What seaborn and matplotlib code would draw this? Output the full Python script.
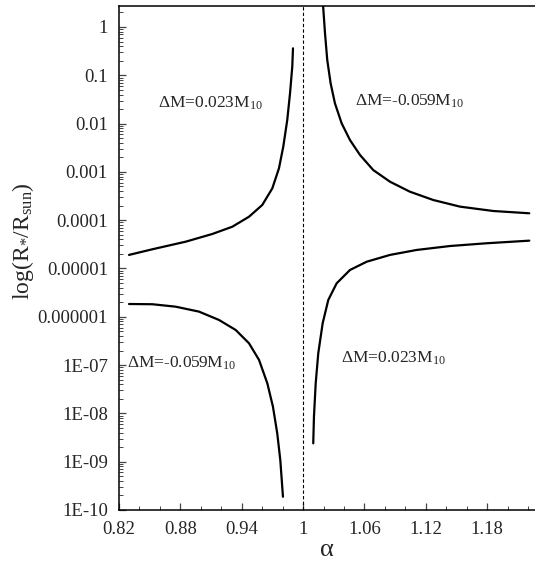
import numpy as np
import pandas as pd
import matplotlib
matplotlib.use("Agg")
import matplotlib.pyplot as plt
import matplotlib.ticker as mticker
import seaborn as sns

# Stellar radius versus alpha for two mass-loss cases, on either side of alpha = 1
alpha_ul = [0.8298, 0.8526, 0.8852, 0.9112, 0.9308, 0.9471, 0.9601, 0.9699,
            0.9764, 0.9806, 0.9845, 0.9872, 0.9894, 0.9901]
r_ul = [1.91e-5, 2.50e-5, 3.59e-5, 5.18e-5, 7.33e-5, 1.18e-4, 2.07e-4, 4.57e-4,
        1.19e-3, 3.33e-3, 1.19e-2, 4.24e-2, 0.151, 0.362]

alpha_ur = [1.0190, 1.0197, 1.0214, 1.0236, 1.0269, 1.0311, 1.0377, 1.0458, 1.0556,
            1.0686, 1.0849, 1.1044, 1.1272, 1.1533, 1.1859, 1.2211]
r_ur = [4.0, 2.44, 0.741, 0.207, 6.82e-2, 2.63e-2, 1.01e-2, 4.57e-3, 2.24e-3,
        1.09e-3, 6.27e-4, 3.89e-4, 2.62e-4, 1.91e-4, 1.55e-4, 1.39e-4]

alpha_ll = [0.8298, 0.8526, 0.8754, 0.8982, 0.9178, 0.9341, 0.9471, 0.9569,
            0.9650, 0.9705, 0.9747, 0.9777, 0.9803]
r_ll = [1.84e-6, 1.82e-6, 1.62e-6, 1.28e-6, 8.59e-7, 5.33e-7, 2.83e-7, 1.28e-7,
        4.2e-8, 1.38e-8, 3.87e-9, 1.08e-9, 1.88e-10]

alpha_lr = [1.0099, 1.0106, 1.0123, 1.0148, 1.0191, 1.0246, 1.0328, 1.0458,
            1.0621, 1.0849, 1.1110, 1.1436, 1.1794, 1.2211]
r_lr = [2.40e-9, 8.55e-9, 4.20e-8, 1.75e-7, 7.33e-7, 2.23e-6, 4.94e-6, 9.31e-6,
        1.38e-5, 1.91e-5, 2.42e-5, 2.92e-5, 3.33e-5, 3.77e-5]

curve_names = ["upper_left", "upper_right", "lower_left", "lower_right"]

x_ticks = [0.82, 0.88, 0.94, 1.00, 1.06, 1.12, 1.18]
x_tick_labels = ["0.82", "0.88", "0.94", "1", "1.06", "1.12", "1.18"]
y_ticks = [1e-10, 1e-9, 1e-8, 1e-7, 1e-6, 1e-5, 1e-4, 1e-3, 1e-2, 1e-1, 1]
y_tick_labels = ["1E-10", "1E-09", "1E-08", "1E-07", "0.000001", "0.00001",
                 "0.0001", "0.001", "0.01", "0.1", "1"]

annotations = [
    (0.909, 0.0267, r"$\Delta$M=0.023M$_{10}$"),
    (1.1045, 0.0290, r"$\Delta$M=-0.059M$_{10}$"),
    (0.8816, 1.1e-7, r"$\Delta$M=-0.059M$_{10}$"),
    (1.0878, 1.4e-7, r"$\Delta$M=0.023M$_{10}$"),
]

frames = []
for name, xs, ys in zip(curve_names,
                        [alpha_ul, alpha_ur, alpha_ll, alpha_lr],
                        [r_ul, r_ur, r_ll, r_lr]):
    frames.append(pd.DataFrame({"alpha": xs, "R": ys, "curve": name}))
data = pd.concat(frames, ignore_index=True)

sns.set_style("ticks")
plt.rcParams["font.family"] = ["Liberation Serif", "DejaVu Serif"]
plt.rcParams["mathtext.fontset"] = "custom"
plt.rcParams["mathtext.rm"] = "Liberation Serif"
plt.rcParams["mathtext.it"] = "Liberation Serif:italic"
plt.rcParams["mathtext.default"] = "rm"

fig = plt.figure(figsize=(5.35, 5.65), dpi=100)
ax = fig.add_axes([119 / 535, 55 / 565, 1 - 119 / 535, 504 / 565])

sns.lineplot(data=data, x="alpha", y="R", units="curve", estimator=None,
             sort=False, color="black", lw=1.6, ax=ax, legend=False)

ax.axvline(1.0, color="black", lw=0.8, ls=(0, (3, 2)))

ax.set_yscale("log")
ax.set_xlim(0.82, 1.2267)
ax.set_ylim(1e-10, 2.72)

ax.set_xticks(x_ticks)
ax.set_xticklabels(x_tick_labels)
ax.xaxis.set_minor_locator(mticker.MultipleLocator(0.02))
ax.set_yticks(y_ticks)
ax.set_yticklabels(y_tick_labels)
ax.yaxis.set_minor_locator(mticker.LogLocator(base=10, subs=np.arange(2, 10), numticks=100))
ax.yaxis.set_minor_formatter(mticker.NullFormatter())

ax.tick_params(axis="both", which="major", direction="in", length=5, width=0.9,
               labelsize=13.5, color="#444444")
ax.tick_params(axis="both", which="minor", direction="in", length=3, width=0.7,
               color="#444444")
ax.tick_params(axis="y", which="major", pad=8)
ax.tick_params(axis="x", which="major", pad=8)

for side in ["left", "bottom", "top"]:
    ax.spines[side].set_linewidth(1.1)
    ax.spines[side].set_color("black")
ax.spines["right"].set_visible(False)

ax.set_xlabel("α", fontsize=19, labelpad=1)
ax.set_ylabel(r"log(R$_{*}$/R$_{\mathrm{sun}}$)", fontsize=17)
ax.yaxis.set_label_coords(-0.200, 0.534)

for x, y, text in annotations:
    ax.text(x, y, text, fontsize=12.5, ha="center", va="center")

fig.savefig("out.png", dpi=100)
